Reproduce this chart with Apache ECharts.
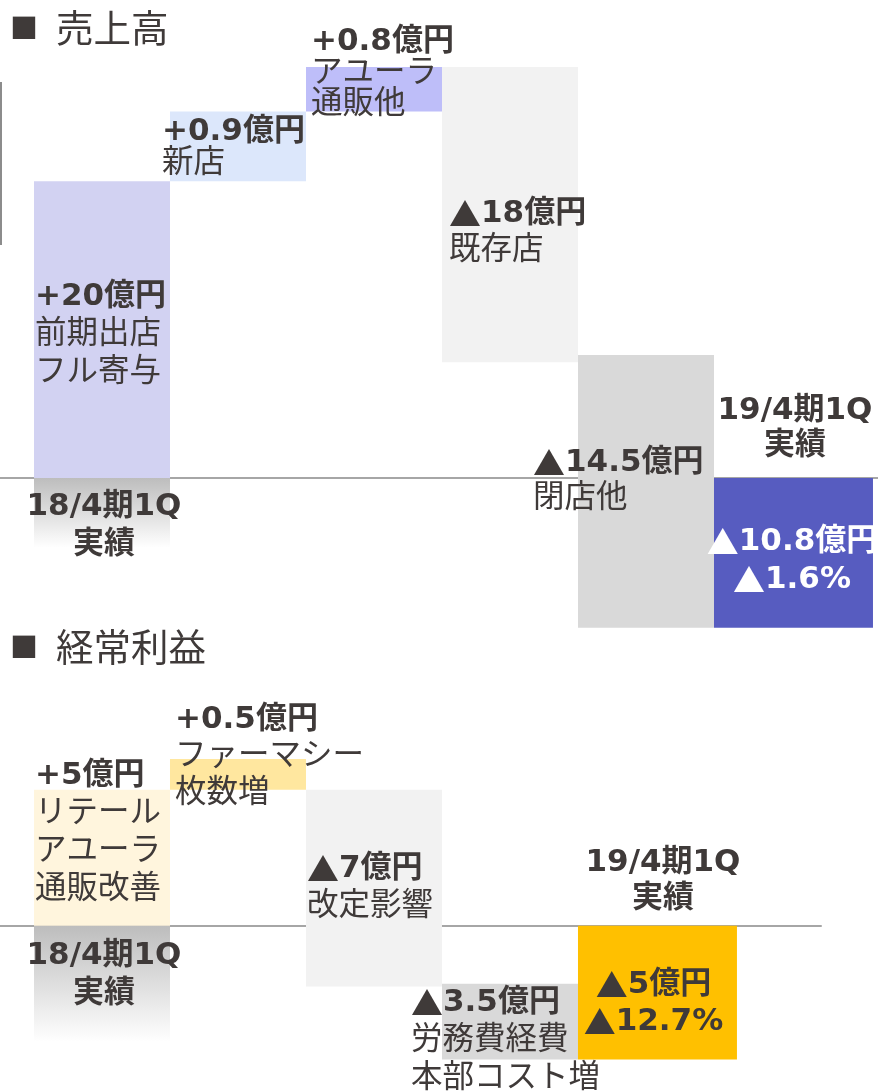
<!DOCTYPE html>
<html>
<head>
<meta charset="utf-8">
<script src="https://cdn.jsdelivr.net/npm/echarts@6/dist/echarts.min.js"></script>
<style>
  html, body { margin: 0; padding: 0; background: #fff; }
  #chart { width: 878px; height: 1091px; }
</style>
</head>
<body>
<div id="chart"></div>
<script>
// 売上高: bar extents as drawn in the slide (broken scale, not proportional)
const salesColumn = [0, 0, 1, 2, 3, 4, 5];
const salesFrom   = [0, 0, 20.0, 24.7, 27.7, 8.3, 0];
const salesTo     = [-4.7, 20.0, 24.7, 27.7, 7.8, -10.1, -10.1];
const salesHead   = ['18/4期1Q', '+20億円', '+0.9億円', '+0.8億円', '▲18億円', '▲14.5億円', '▲10.8億円'];
const salesNote   = ['実績', '前期出店\nフル寄与', '新店', 'アユーラ\n通販他', '既存店', '閉店他', '▲1.6%'];
const salesResultTitle = '19/4期1Q\n実績';

// 経常利益
const profitColumn = [0, 0, 1, 2, 3, 4];
const profitFrom   = [0, 0, 5.0, 5.0, -2.13, 0];
const profitTo     = [-4.27, 5.0, 6.13, -2.23, -4.92, -4.92];
const profitHead   = ['18/4期1Q', '+5億円', '+0.5億円', '▲7億円', '▲3.5億円', '▲5億円'];
const profitNote   = ['実績', 'リテール\nアユーラ\n通販改善', 'ファーマシー\n枚数増', '改定影響', '労務費経費\n本部コスト増', '▲12.7%'];
const profitResultTitle = '19/4期1Q\n実績';

const FONT = '"DejaVu Sans", "Noto Sans CJK JP", sans-serif';
const CJK = '"Noto Sans CJK JP", sans-serif';
const TEXT_COLOR = '#3F3A39';

// per-bar look and label placement
const salesStyle = [
    { fill: 'fade', ax: 'center', dx: 2, dy: 13, lh: 38, bold: true },
    { fill: '#D2D2F2', ax: 'left', dx: 1, dy: 5.5, lh: 38 },
    { fill: '#DCE7FB', ax: 'left', dx: -8, dy: 1, lh: 32 },
    { fill: '#BEBEF9', ax: 'left', dx: 5, dy: -16, lh: 31 },
    { fill: '#F2F2F2', ax: 'left', dx: 7, dy: 18, lh: 37 },
    { fill: '#D9D9D9', ax: 'left', dx: -45, dy: -10.5, lh: 36 },
    { fill: '#575CC0', w: 1.169, ax: 'center', dx: -1.5, dy: 8, lh: 38, bold: true, color: '#FFFFFF',
      title: { dx: 1.5, dy: -50, lh: 35 } }
];

const profitStyle = [
    { fill: 'fade', ax: 'center', dx: 2, dy: -9, lh: 38, bold: true },
    { fill: '#FFF5DD', ax: 'left', dx: 1, dy: -25, lh: 38 },
    { fill: '#FFE79F', ax: 'left', dx: 5, dy: -17.5, lh: 37 },
    { fill: '#F2F2F2', ax: 'left', dx: 1, dy: 0, lh: 38 },
    { fill: '#D9D9D9', ax: 'left', dx: -31, dy: 19.5, lh: 38 },
    { fill: '#FFC000', w: 1.169, ax: 'center', dx: -4, dy: 11, lh: 37, bold: true,
      title: { dx: 5.5, dy: -45, lh: 36 } }
];

function richFor(lh, color) {
    return {
        b: { fontSize: 31, fontWeight: 'bold', fontFamily: FONT, lineHeight: lh, fill: color },
        n: { fontSize: 31.5, fontWeight: 'normal', fontFamily: FONT, lineHeight: lh, fill: color },
        tri: { fontSize: 32, fontWeight: 'bold', fontFamily: CJK, lineHeight: lh, fill: color }
    };
}

// wrap one line in rich tokens, giving the ▲ mark its own full-width glyph
function tokens(tag, line) {
    return line.split('▲')
        .map(part => (part ? `{${tag}|${part}}` : ''))
        .join('{tri|▲}');
}

function buildLabel(head, note, bold) {
    const tag = bold ? 'b' : 'n';
    return [tokens('b', head)].concat(note.split('\n').map(l => tokens(tag, l))).join('\n');
}

function waterfallRenderer(heads, notes, styles, resultTitle) {
    return function (params, api) {
        const i = params.dataIndex;
        const st = styles[i];
        const col = api.value(0);
        const a = api.coord([col, api.value(1)]);
        const b = api.coord([col + (st.w || 1), api.value(2)]);
        const x = a[0];
        const w = b[0] - a[0];
        const y = Math.min(a[1], b[1]);
        const h = Math.abs(b[1] - a[1]);

        const fill = st.fill === 'fade'
            ? new echarts.graphic.LinearGradient(0, 0, 0, 1, [
                { offset: 0, color: '#BDBDBD' },
                { offset: 1, color: '#FFFFFF' }
            ])
            : st.fill;
        const color = st.color || TEXT_COLOR;

        const children = [
            { type: 'rect', z2: 0, shape: { x, y, width: w, height: h }, style: { fill } },
            {
                type: 'text', z2: 10,
                style: {
                    text: buildLabel(heads[i], notes[i], st.bold),
                    x: (st.ax === 'center' ? x + w / 2 : x) + st.dx,
                    y: y + h / 2 + st.dy,
                    align: st.ax === 'center' ? 'center' : 'left',
                    verticalAlign: 'middle',
                    fill: color,
                    rich: richFor(st.lh, color)
                }
            }
        ];
        if (st.title) {
            children.push({
                type: 'text', z2: 10,
                style: {
                    text: resultTitle.split('\n').map(l => tokens('b', l)).join('\n'),
                    x: x + w / 2 + st.title.dx,
                    y: y + st.title.dy,
                    align: 'center',
                    verticalAlign: 'middle',
                    fill: TEXT_COLOR,
                    rich: richFor(st.title.lh, TEXT_COLOR)
                }
            });
        }
        return { type: 'group', children };
    };
}

function baseAxis(max, gridIndex) {
    return {
        type: 'value', gridIndex, min: -0.25, max,
        axisLine: { show: true, onZero: true, lineStyle: { color: '#A6A6A6', width: 2 } },
        axisTick: { show: false },
        axisLabel: { show: false },
        splitLine: { show: false }
    };
}

function levelAxis(min, max, gridIndex) {
    return {
        type: 'value', gridIndex, min, max,
        axisLine: { show: false },
        axisTick: { show: false },
        axisLabel: { show: false },
        splitLine: { show: false }
    };
}

const titleRich = {
    sq: { fontSize: 28, width: 46, fontFamily: CJK, fontWeight: 'normal', color: TEXT_COLOR, lineHeight: 40 },
    t: { fontSize: 37.5, fontFamily: CJK, fontWeight: 'normal', color: TEXT_COLOR, lineHeight: 40 }
};

const chart = echarts.init(document.getElementById('chart'));

chart.setOption({
    animation: false,
    backgroundColor: '#FFFFFF',
    title: [
        { text: '{sq|■}{t|売上高}', left: 10, top: 8, padding: 0,
          textStyle: { fontWeight: 'normal', rich: titleRich } },
        { text: '{sq|■}{t|経常利益}', left: 10, top: 627, padding: 0,
          textStyle: { fontWeight: 'normal', rich: titleRich } }
    ],
    grid: [
        { left: 0, right: 0, top: 33, height: 623 },
        { left: 0, width: 821, top: 708, height: 381 }
    ],
    xAxis: [baseAxis(6.2059, 0), baseAxis(5.787, 1)],
    yAxis: [levelAxis(-12, 30, 0), levelAxis(-6, 8, 1)],
    graphic: [
        { type: 'line', shape: { x1: 1, y1: 82, x2: 1, y2: 245 }, style: { stroke: '#8C8C8C', lineWidth: 2 } }
    ],
    series: [
        {
            type: 'custom',
            xAxisIndex: 0, yAxisIndex: 0,
            renderItem: waterfallRenderer(salesHead, salesNote, salesStyle, salesResultTitle),
            data: salesColumn.map((c, i) => [c, salesFrom[i], salesTo[i]])
        },
        {
            type: 'custom',
            xAxisIndex: 1, yAxisIndex: 1,
            renderItem: waterfallRenderer(profitHead, profitNote, profitStyle, profitResultTitle),
            data: profitColumn.map((c, i) => [c, profitFrom[i], profitTo[i]])
        }
    ]
});

window.addEventListener('resize', () => chart.resize());
</script>
</body>
</html>
